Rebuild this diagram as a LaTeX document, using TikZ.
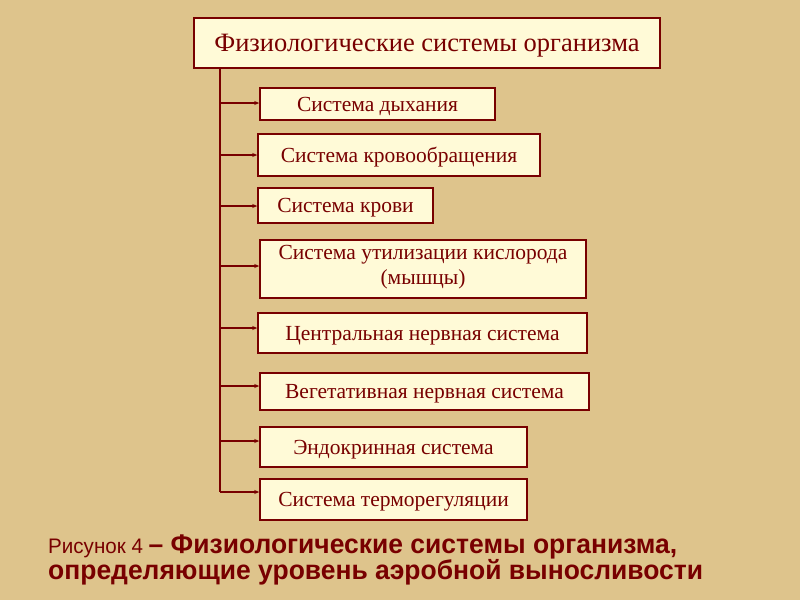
\documentclass[tikz,border=0pt]{standalone}
\usepackage{fontspec}
\setmainfont{Liberation Serif}
\newfontfamily\capfontb{Liberation Sans}[FakeStretch=0.98]
\usetikzlibrary{arrows.meta}
\definecolor{bg}{RGB}{222,196,140}
\definecolor{mar}{RGB}{120,0,0}
\definecolor{boxfill}{RGB}{255,250,215}
\newcommand{\lowtxt}[2]{\raisebox{#1}[0pt][0pt]{#2}}
\tikzset{
  sbox/.style={draw=mar,line width=1.5pt,fill=boxfill,text=mar,font=\fontsize{21.5}{25}\selectfont,align=center,inner sep=0pt},
  conn/.style={draw=mar,line width=1.2pt,-{Stealth[length=5pt,width=4pt]}},
}
\begin{document}
\begin{tikzpicture}[x=1pt,y=-1pt]
\fill[bg] (0,0) rectangle (800,600);
\useasboundingbox (0,0) rectangle (800,600);
\node[sbox,minimum width=466pt,minimum height=50pt,font=\fontsize{26.5}{28}\selectfont] (t) at (427,43) {\lowtxt{-8pt}{Физиологические системы организма}};
\node[sbox,minimum width=235pt,minimum height=32pt] (b1) at (377.5,104) {\lowtxt{-7pt}{Система дыхания}};
\node[sbox,minimum width=282pt,minimum height=42pt] (b2) at (399,155) {\lowtxt{-7pt}{Система кровообращения}};
\node[sbox,minimum width=175pt,minimum height=35pt] (b3) at (345.5,205.5) {\lowtxt{-7pt}{Система крови}};
\node[sbox,minimum width=326pt,minimum height=58pt] (b4) at (423,269) {\lowtxt{-3pt}{\setlength{\tabcolsep}{0pt}\begin{tabular}{c}Система утилизации кислорода\\(мышцы)\end{tabular}}};
\node[sbox,minimum width=329pt,minimum height=40pt] (b5) at (422.5,333) {\lowtxt{-7pt}{Центральная нервная система}};
\node[sbox,minimum width=329pt,minimum height=37pt] (b6) at (424.5,391.5) {\lowtxt{-7pt}{Вегетативная нервная система}};
\node[sbox,minimum width=267pt,minimum height=40pt] (b7) at (393.5,447) {\lowtxt{-7pt}{Эндокринная система}};
\node[sbox,minimum width=267pt,minimum height=41pt] (b8) at (393.5,499.5) {\lowtxt{-7pt}{Система терморегуляции}};
\coordinate (top) at (220,68);
\coordinate (bot) at (220,492);
\draw[draw=mar,line width=1.2pt] (top) -- (bot);
\foreach \i/\y in {1/103,2/155,3/206,4/266,5/328,6/386,7/441,8/492}{
  \coordinate (s\i) at (220,\y);
  \draw[conn] (s\i) -- (b\i.west |- s\i);
}
\node[anchor=base west,text=mar,inner sep=0pt] (cap1) at (48,553) {{\capfontb\fontsize{21}{24}\selectfont Рисунок 4 }{\capfontb\bfseries\fontsize{27}{28}\selectfont – Физиологические системы организма,}};
\node[anchor=base west,text=mar,inner sep=0pt,font=\capfontb\bfseries\fontsize{27}{28}\selectfont] (cap2) at (48,579) {определяющие уровень аэробной выносливости};
\end{tikzpicture}
\end{document}
